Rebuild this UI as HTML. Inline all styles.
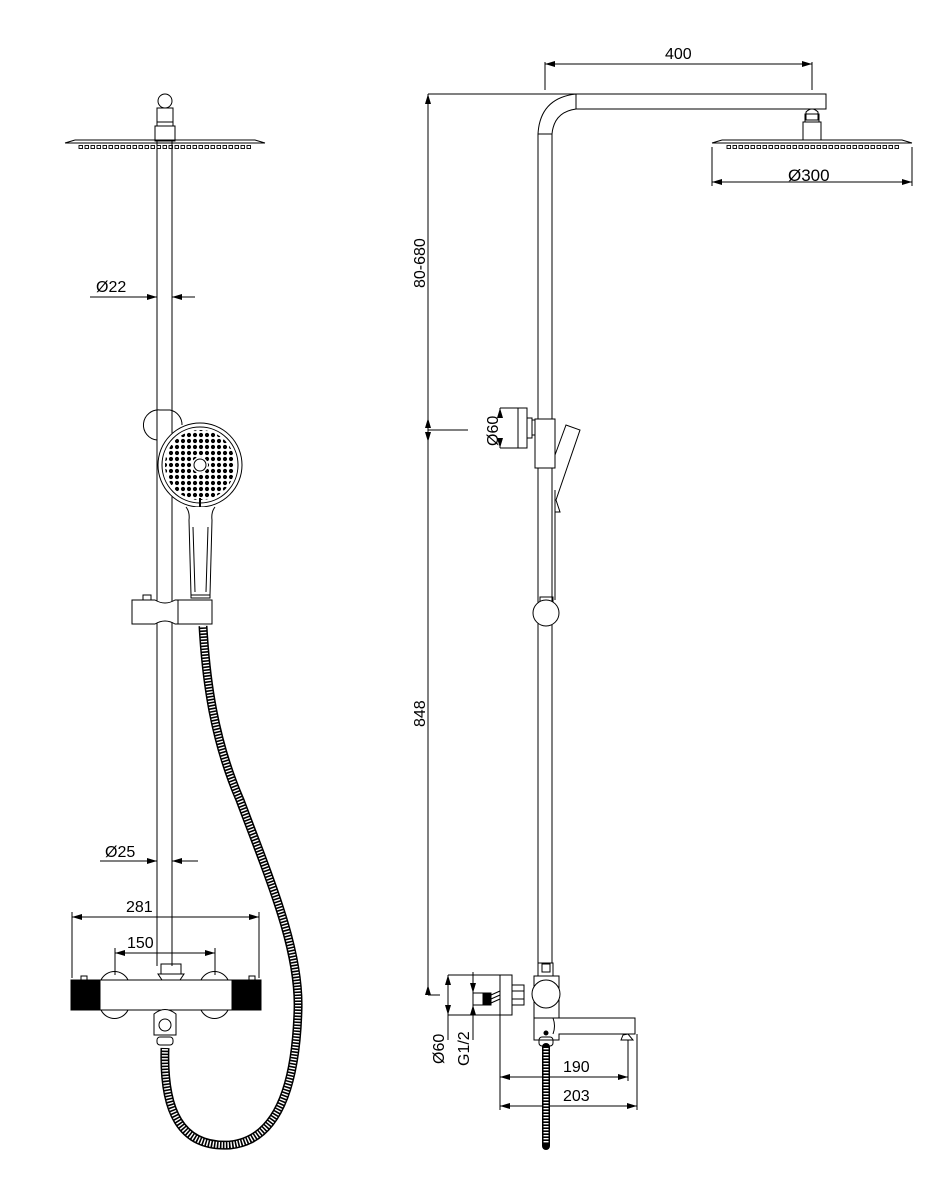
<!DOCTYPE html>
<html><head><meta charset="utf-8"><style>
html,body{margin:0;padding:0;background:#fff;width:940px;height:1195px;overflow:hidden}
svg{display:block}
text{font-family:"Liberation Sans",Arial,sans-serif;font-size:16px;fill:#000}
</style></head><body>
<svg width="940" height="1195" viewBox="0 0 940 1195" xmlns="http://www.w3.org/2000/svg">
<defs>
<marker id="a" viewBox="0 0 10 6" refX="10" refY="3" markerWidth="10" markerHeight="6" orient="auto-start-reverse" markerUnits="userSpaceOnUse"><path d="M0,0 L10,3 L0,6 z" fill="#000"/></marker>
<pattern id="dp" x="0" y="0" width="6" height="6" patternUnits="userSpaceOnUse"><circle cx="3" cy="3" r="2.1" fill="#000"/></pattern>
<pattern id="np" x="0" y="0" width="6" height="5" patternUnits="userSpaceOnUse"><rect x="1" y="0.5" width="3.5" height="3" fill="none" stroke="#000" stroke-width="0.9"/></pattern>
</defs>
<g fill="none" stroke="#000" stroke-width="1">
<!-- LEFT VIEW -->
<circle cx="165" cy="101" r="7" fill="#fff"/>
<rect x="157" y="108" width="16" height="14" fill="#fff"/>
<rect x="157" y="122" width="16" height="4"/>
<rect x="155" y="126" width="20" height="15" fill="#fff"/>
<path d="M65,143 L265,143 M75,140 L255,140 L265,143 M75,140 L65,143"/>
<rect x="78" y="144" width="174" height="5" fill="url(#np)" stroke="none"/>
<line x1="157" y1="141" x2="157" y2="966"/>
<line x1="172" y1="141" x2="172" y2="966"/>
<line x1="90" y1="297" x2="157" y2="297" marker-end="url(#a)"/>
<line x1="195" y1="297" x2="172" y2="297" marker-end="url(#a)"/>
<path d="M157,440 A15,15 0 0 1 160,410 L170,410 A15,15 0 0 1 182,425"/>
<!-- handshower -->
<circle cx="200" cy="465" r="42" fill="#fff"/>
<circle cx="200" cy="465" r="38"/>
<circle cx="200" cy="465" r="35" fill="url(#dp)" stroke="none"/>
<circle cx="200" cy="465" r="8" fill="#fff" stroke="none"/>
<circle cx="200" cy="465" r="6" fill="#fff"/>
<line x1="200" y1="498" x2="200" y2="511" stroke-width="2"/>
<path d="M186,507 Q190,512 189,520 L191,595 L210,595 L212,520 Q211,512 215,507" fill="#fff"/>
<line x1="193" y1="527" x2="195" y2="592"/><line x1="208" y1="527" x2="206" y2="592"/>
<rect x="191" y="595" width="19" height="3"/>
<path d="M132,600 L155,600 Q165,606 175,600 L212,600 L212,624 L175,624 Q165,618 155,624 L132,624 Z" fill="#fff"/>
<line x1="178" y1="600" x2="178" y2="624"/>
<rect x="143" y="595" width="8" height="5"/>
<line x1="100" y1="861" x2="157" y2="861" marker-end="url(#a)"/>
<line x1="198" y1="861" x2="172" y2="861" marker-end="url(#a)"/>
<line x1="72" y1="912" x2="72" y2="978"/><line x1="259" y1="912" x2="259" y2="978"/>
<line x1="72" y1="917" x2="259" y2="917" marker-start="url(#a)" marker-end="url(#a)"/>
<line x1="115" y1="948" x2="115" y2="975"/><line x1="215" y1="948" x2="215" y2="975"/>
<line x1="115" y1="953" x2="215" y2="953" marker-start="url(#a)" marker-end="url(#a)"/>
<path d="M101,980 A15,15 0 0 1 128,980 M201,980 A15,15 0 0 1 228,980"/>
<path d="M101,1010 A15,15 0 0 0 128,1010 M201,1010 A15,15 0 0 0 228,1010"/>
<rect x="161" y="964" width="20" height="10"/>
<path d="M158,974 L184,974 L180,980 Q171,986 162,980 Z" fill="#fff"/>
<rect x="100" y="980" width="132" height="30" fill="#fff"/>
<rect x="71" y="980" width="29" height="30" fill="#000"/>
<rect x="232" y="980" width="29" height="30" fill="#000"/>
<rect x="81" y="976" width="6" height="4"/><rect x="249" y="976" width="6" height="4"/>
<path d="M154,1014 Q165,1005 176,1014 L176,1035 L154,1035 Z" fill="#fff"/>
<circle cx="165" cy="1025" r="6"/>
<rect x="157" y="1037" width="16" height="8" rx="3"/>
<path d="M203,626 C206,680 214,740 240,800 C270,880 300,950 298,1010 C296,1080 280,1140 230,1145 C180,1148 163,1110 165,1048" stroke="#000" stroke-width="9"/>
<path d="M203,626 C206,680 214,740 240,800 C270,880 300,950 298,1010 C296,1080 280,1140 230,1145 C180,1148 163,1110 165,1048" stroke="#fff" stroke-width="6" stroke-dasharray="1.4 1.6"/>

<!-- RIGHT VIEW -->
<line x1="545" y1="62" x2="545" y2="90"/><line x1="812" y1="62" x2="812" y2="90"/>
<line x1="545" y1="64" x2="812" y2="64" marker-start="url(#a)" marker-end="url(#a)"/>
<path d="M538,963 L538,134 Q540,98 576,94 L826,94 L826,109 L576,109 Q554,112 552,134 L552,963"/>
<line x1="576" y1="94" x2="576" y2="109"/>
<line x1="538" y1="134" x2="552" y2="134"/>
<path d="M806,120 L806,112 Q812,106 818,112 L818,120 Z"/>
<rect x="805" y="114" width="14" height="8"/>
<rect x="803" y="122" width="18" height="18" fill="#fff"/>
<path d="M712,143 L912,143 M722,140 L902,140 L912,143 M722,140 L712,143"/>
<rect x="725" y="144" width="174" height="5" fill="url(#np)" stroke="none"/>
<line x1="712" y1="147" x2="712" y2="186"/><line x1="912" y1="147" x2="912" y2="186"/>
<line x1="712" y1="182" x2="912" y2="182" marker-start="url(#a)" marker-end="url(#a)"/>
<line x1="428" y1="94" x2="578" y2="94"/>
<line x1="428" y1="430" x2="428" y2="94" marker-end="url(#a)"/>
<line x1="428" y1="430" x2="428" y2="418" marker-end="url(#a)"/>
<line x1="428" y1="430" x2="468" y2="430"/>
<line x1="428" y1="430" x2="428" y2="442" marker-end="url(#a)"/>
<line x1="428" y1="442" x2="428" y2="995"/>
<line x1="428" y1="995" x2="428" y2="985" marker-end="url(#a)"/>
<line x1="428" y1="995" x2="440" y2="995"/>
<line x1="500" y1="408" x2="518" y2="408"/><line x1="500" y1="448" x2="518" y2="448"/>
<line x1="500" y1="408" x2="500" y2="415" marker-start="url(#a)"/>
<line x1="500" y1="448" x2="500" y2="441" marker-start="url(#a)"/>
<rect x="518" y="408" width="9" height="40" fill="#fff"/>
<rect x="527" y="418" width="5" height="20"/>
<path d="M532,420 L535,420 L535,435 L532,435"/>
<rect x="535" y="419" width="20" height="49" fill="#fff"/>
<path d="M555,455 L566,425 L580,430 L556,500 L560,512 L555,512"/>
<line x1="555" y1="490" x2="555" y2="600"/>
<rect x="540" y="597" width="13" height="6"/>
<circle cx="546" cy="613" r="13" fill="#fff"/>
<rect x="538" y="963" width="15" height="13" fill="#fff"/>
<rect x="542" y="964" width="8" height="8"/>
<rect x="534" y="976" width="25" height="42" fill="#fff"/>
<circle cx="546" cy="994" r="14" fill="#fff"/>
<path d="M534,1018 L635,1018 L635,1034 L559,1034 L559,1040 L534,1040 Z" fill="#fff"/>
<path d="M553,1018 Q556,1026 553,1034"/>
<path d="M621,1040 L623,1035 L628,1034 L633,1040 Z"/>
<circle cx="546" cy="1033" r="2" fill="#000"/>
<rect x="539" y="1037" width="14" height="9" rx="3"/>
<rect x="500" y="975" width="12" height="40" fill="#fff"/>
<rect x="512" y="985" width="12" height="20"/>
<line x1="512" y1="991" x2="524" y2="991"/><line x1="512" y1="999" x2="524" y2="999"/>
<rect x="483" y="993" width="8" height="12" fill="#000"/>
<path d="M491,995 L500,991 M491,999 L500,995 M491,1003 L500,999"/>
<line x1="448" y1="975" x2="500" y2="975"/><line x1="448" y1="1015" x2="500" y2="1015"/>
<line x1="448" y1="975" x2="448" y2="1040"/>
<line x1="448" y1="985" x2="448" y2="975" marker-end="url(#a)"/>
<line x1="448" y1="1005" x2="448" y2="1015" marker-end="url(#a)"/>
<line x1="473" y1="993" x2="483" y2="993"/><line x1="473" y1="1005" x2="483" y2="1005"/>
<line x1="473" y1="972" x2="473" y2="1040"/>
<line x1="473" y1="983" x2="473" y2="993" marker-end="url(#a)"/>
<line x1="473" y1="1015" x2="473" y2="1005" marker-end="url(#a)"/>
<line x1="500" y1="1015" x2="500" y2="1110"/>
<line x1="628" y1="1040" x2="628" y2="1081"/>
<line x1="637" y1="1034" x2="637" y2="1110"/>
<line x1="500" y1="1077" x2="628" y2="1077" marker-start="url(#a)" marker-end="url(#a)"/>
<line x1="500" y1="1106" x2="637" y2="1106" marker-start="url(#a)" marker-end="url(#a)"/>
<path d="M546,1047 L546,1146" stroke-width="8" stroke-linecap="round"/>
<path d="M546,1048 L546,1144" stroke="#fff" stroke-width="5" stroke-dasharray="1.4 1.6"/>
</g>
<g>
<text x="96" y="292">Ø22</text>
<text x="105" y="857">Ø25</text>
<text x="126" y="912">281</text>
<text x="127" y="948">150</text>
<text x="665" y="59">400</text>
<text x="788" y="181" style="font-size:17px">Ø300</text>
<text transform="translate(425,288) rotate(-90)">80-680</text>
<text transform="translate(425,727) rotate(-90)">848</text>
<text transform="translate(498,446) rotate(-90)">Ø60</text>
<text transform="translate(444,1064) rotate(-90)">Ø60</text>
<text transform="translate(469,1066) rotate(-90)">G1/2</text>
<text x="563" y="1072">190</text>
<text x="563" y="1101">203</text>
</g>
</svg>
</body></html>
